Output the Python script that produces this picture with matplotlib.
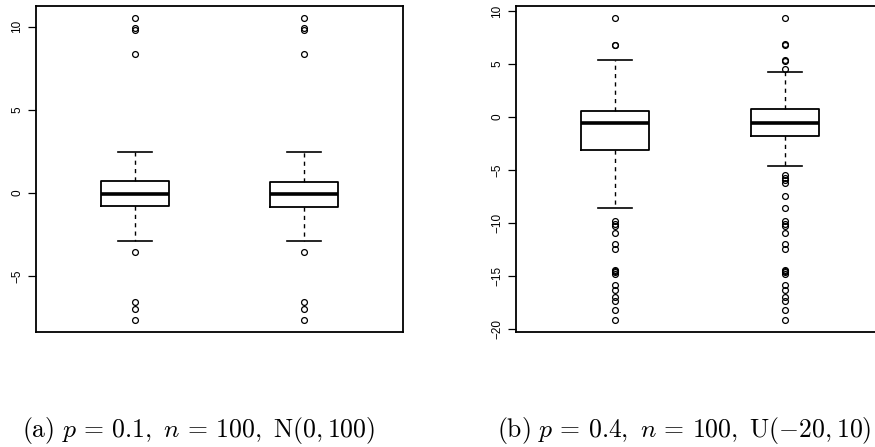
import matplotlib
matplotlib.use("Agg")
import matplotlib.pyplot as plt

plt.rcParams['mathtext.fontset'] = 'cm'
plt.rcParams['font.family'] = ['Liberation Sans', 'DejaVu Sans']

# ---- Panel (a) data ----
a_med = [-0.06, -0.06]
a_q1 = [-0.78, -0.82]
a_q3 = [0.72, 0.68]
a_whislo = [-2.89, -2.89]
a_whishi = [2.48, 2.48]
a_fliers = [
    [10.52, 9.90, 9.82, 8.34, -3.55, -6.53, -6.99, -7.62],
    [10.52, 9.90, 9.82, 8.34, -3.55, -6.53, -6.99, -7.62],
]
a_ticks = [-5, 0, 5, 10]
a_caption = r"$\mathrm{(a)}\ p\,=\,0.1,\ n\,=\,100,\ \mathrm{N}(0,100)$"

# ---- Panel (b) data ----
b_med = [-0.53, -0.53]
b_q1 = [-3.11, -1.79]
b_q3 = [0.57, 0.72]
b_whislo = [-8.55, -4.60]
b_whishi = [5.35, 4.28]
b_low_common = [-9.81, -10.03, -10.28, -10.91, -11.95, -12.39, -14.37, -14.50,
                -14.62, -14.75, -15.82, -16.26, -16.98, -17.30, -18.14, -19.12]
b_fliers = [
    [9.34, 6.82, 6.78] + b_low_common,
    [9.34, 6.85, 6.80, 5.38, 5.33, 4.55, -5.41, -5.75, -5.97, -6.19, -7.45,
     -8.55] + b_low_common,
]
b_ticks = [-20, -15, -10, -5, 0, 5, 10]
b_caption = r"$\mathrm{(b)}\ p\,=\,0.4,\ n\,=\,100,\ \mathrm{U}(-20,10)$"

W, H = 875, 447
fig = plt.figure(figsize=(W / 100, H / 100), dpi=100)

def make_stats(med, q1, q3, lo, hi, fl):
    return [dict(med=med[i], q1=q1[i], q3=q3[i], whislo=lo[i], whishi=hi[i],
                 fliers=fl[i]) for i in range(len(med))]

def draw(ax, stats, ticks):
    allv = []
    for s in stats:
        allv += [s['whislo'], s['whishi']] + list(s['fliers'])
    lo, hi = min(allv), max(allv)
    span = hi - lo
    ax.bxp(stats, positions=[1, 2], widths=0.4, showfliers=True,
           boxprops=dict(color='black', linewidth=1.3),
           medianprops=dict(color='black', linewidth=2.6, solid_capstyle='butt'),
           whiskerprops=dict(color='black', linewidth=1.0, linestyle=(0, (3, 3))),
           capprops=dict(color='black', linewidth=1.2),
           capwidths=0.2,
           flierprops=dict(marker='o', markerfacecolor='none',
                           markeredgecolor='black', markersize=4.2,
                           markeredgewidth=0.9, linestyle='none'))
    ax.set_xlim(0.42, 2.58)
    ax.set_ylim(lo - 0.04 * span, hi + 0.04 * span)
    ax.set_xticks([])
    ax.set_yticks(ticks)
    ax.set_yticklabels([str(t).replace('-', '\u2212') for t in ticks],
                       rotation=90, va='center', fontsize=8.5)
    ax.tick_params(axis='y', length=5.8, width=0.9, pad=3.5)
    for sp in ax.spines.values():
        sp.set_linewidth(1.3)

axw = 367 / W
axh = 326 / H
axb = (H - 332) / H
ax1 = fig.add_axes([36 / W, axb, axw, axh])
draw(ax1, make_stats(a_med, a_q1, a_q3, a_whislo, a_whishi, a_fliers), a_ticks)
ax2 = fig.add_axes([516.3 / W, axb, axw, axh])
draw(ax2, make_stats(b_med, b_q1, b_q3, b_whislo, b_whishi, b_fliers), b_ticks)

fig.text(22 / W, 1 - 437 / H, a_caption, ha='left', va='baseline', fontsize=18.5)
fig.text(497 / W, 1 - 437 / H, b_caption, ha='left', va='baseline', fontsize=18.5)

fig.savefig("out.png", dpi=100)
